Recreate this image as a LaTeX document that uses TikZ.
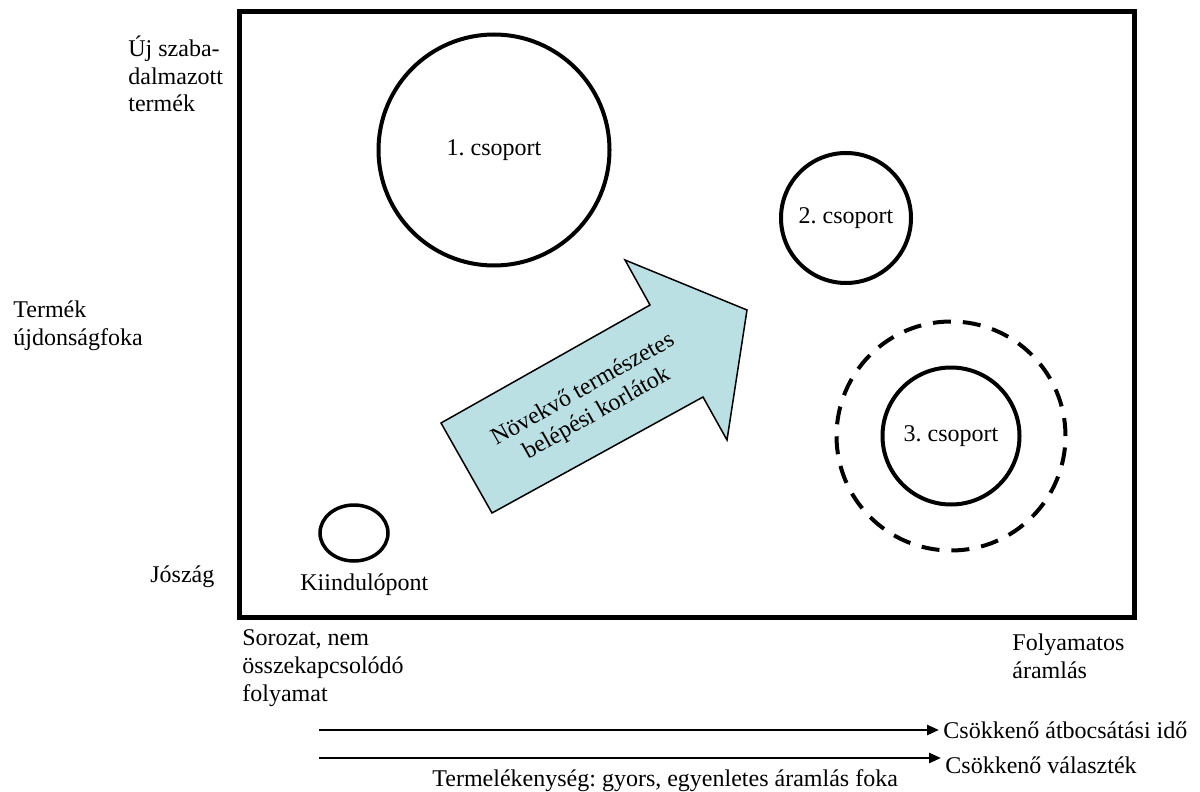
\documentclass[tikz,border=0pt]{standalone}
\usepackage{fontspec}
\setmainfont{Liberation Serif}
\usetikzlibrary{positioning,shapes.geometric,arrows.meta}
\definecolor{nyilkek}{RGB}{187,224,227}
\frenchspacing

\begin{document}
\begin{tikzpicture}[x=0.5pt,y=-0.5pt,>={Triangle[length=6pt,width=5pt]},line join=miter,
  every node/.style={font=\fontsize{12}{13.8}\selectfont},
  felirat/.style={anchor=base west,inner sep=0pt,align=left},
  csoportkor/.style={circle,draw,line width=2pt,inner sep=0pt},
]
%%
\useasboundingbox (0,0) rectangle (1200,792);
\draw [line width=2.5pt] (239.5,11.5) rectangle (1134.5,617.5);
  \node (ujtermek) at (128,112) [felirat] {Új szaba-\\dalmazott\\termék};
  \node (ujdonsag) at (13,345) [felirat] {Termék\\újdonságfoka};
  \node (joszag) at (150,582) [felirat] {Jószág};
  \node (sorozat) at (242,701) [felirat] {Sorozat, nem\\összekapcsolódó\\folyamat};
  \node (folyamatos) at (1012,678) [felirat] {Folyamatos\\áramlás};
  \draw [fill=nyilkek,line width=0.75pt] (441,423) -- (650,305) -- (625,260) -- (747,310) -- (727,440) -- (703,397) -- (492,513) -- cycle;
  \node (korlatok) at (590,402) [rotate=29.5,align=center,inner sep=0pt] {Növekvő természetes\\belépési korlátok};
  \node (csoport1) at (494,150) [csoportkor,minimum size=115.5pt] {1. csoport};
  \node (csoport2) at (846,218) [csoportkor,minimum size=65pt] {2. csoport};
  \node (kulso3) at (951,436) [csoportkor,dash pattern=on 9pt off 6pt,minimum size=114.5pt] {};
  \node (csoport3) at (951,436) [csoportkor,minimum size=68.5pt] {3. csoport};
  \node (kiindulo) at (354,533) [ellipse,draw,line width=1.75pt,minimum width=34pt,minimum height=28pt,inner sep=0pt] {};
  \node (kiindulopont) at (300,590) [felirat] {Kiindulópont};
  \coordinate (nyil1) at (319,730);
  \coordinate (nyil2) at (319,758);
  \node (atbocsatas) at (939,730) [anchor=west,inner sep=2pt] {Csökkenő átbocsátási idő};
  \node (valasztek) at (941,765) [anchor=west,inner sep=2pt] {Csökkenő választék};
  \node (termelekenyseg) at (432,786) [felirat] {Termelékenység: gyors, egyenletes áramlás foka};
  \draw [->,line width=1.25pt] (nyil1) -- (nyil1 -| atbocsatas.west);
  \draw [->,line width=1.25pt] (nyil2) -- (nyil2 -| valasztek.west);
%
\end{tikzpicture}
\end{document}
